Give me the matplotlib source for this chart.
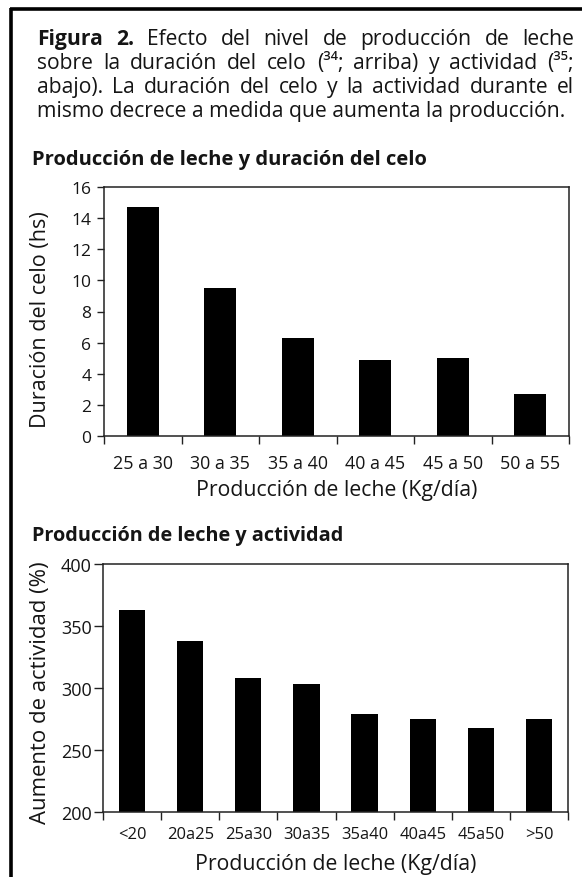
import matplotlib
matplotlib.use("Agg")
import matplotlib.pyplot as plt
from matplotlib.lines import Line2D

# ---------------- data ----------------
caption_lines = [
    "Figura 2. Efecto del nivel de producción de leche",
    "sobre la duración del celo (³⁴; arriba) y actividad (³⁵;",
    "abajo). La duración del celo y la actividad durante el",
    "mismo decrece a medida que aumenta la producción.",
]
caption_bold_words = 2  # "Figura 2." in bold

title_top = "Producción de leche y duración del celo"
cats_top = ["25 a 30", "30 a 35", "35 a 40", "40 a 45", "45 a 50", "50 a 55"]
celo_hs = [14.7, 9.5, 6.3, 4.9, 5.0, 2.7]
ylabel_top = "Duración del celo (hs)"
yticks_top = [0, 2, 4, 6, 8, 10, 12, 14, 16]

title_bottom = "Producción de leche y actividad"
cats_bottom = ["<20", "20a25", "25a30", "30a35", "35a40", "40a45", "45a50", ">50"]
actividad = [363, 338, 308, 303, 279, 275, 268, 275]
ylabel_bottom = "Aumento de actividad (%)"
yticks_bottom = [200, 250, 300, 350, 400]

xlabel = "Producción de leche (Kg/día)"

# ---------------- figure ----------------
W, H = 582, 878
fig = plt.figure(figsize=(W / 100, H / 100), dpi=100)
fig.patch.set_facecolor("white")
renderer = fig.canvas.get_renderer()

FAM = ["Open Sans", "DejaVu Sans"]
NARROW = ["Liberation Sans Narrow", "Open Sans", "DejaVu Sans"]
TXT = "#151515"


def width_px(s, size, family=FAM, **kw):
    t = fig.text(0, 0, s, fontsize=size, family=family, **kw)
    w = t.get_window_extent(renderer).width
    t.remove()
    return w


def fit(s, px, family=FAM, **kw):
    return 10 * px / width_px(s, 10, family=family, **kw)


def fx(x):
    return x / W


def fy(y):
    return 1 - y / H


# border
fig.add_artist(Line2D([fx(9.5), 1.0], [fy(10), fy(10)], transform=fig.transFigure,
                      color="black", lw=2.6, solid_capstyle="butt"))
fig.add_artist(Line2D([fx(11), fx(11)], [0.0, fy(9)], transform=fig.transFigure,
                      color="black", lw=2.6, solid_capstyle="butt"))

# caption (justified)
cap_size = fit(caption_lines[3], 530)
cap_left, cap_right = 37, 574
cap_y = [37, 61, 85, 109]
for i, line in enumerate(caption_lines):
    words = line.split(" ")
    weights = ["normal"] * len(words)
    if i == 0:
        for k in range(caption_bold_words):
            weights[k] = "bold"
    if i == len(caption_lines) - 1:
        fig.text(fx(cap_left), fy(cap_y[i]), line, fontsize=cap_size, family=FAM,
                 color=TXT, ha="left", va="center_baseline")
        continue
    ws = [width_px(w, cap_size, weight=wt) for w, wt in zip(words, weights)]
    gap = (cap_right - cap_left - sum(ws)) / (len(words) - 1)
    x = cap_left
    for w, wt, wd in zip(words, weights, ws):
        fig.text(fx(x), fy(cap_y[i]), w, fontsize=cap_size, family=FAM, weight=wt,
                 color=TXT, ha="left", va="center_baseline")
        x += wd + gap

# subtitles
fig.text(fx(32), fy(157), title_top, fontsize=fit(title_top, 395, weight="bold"),
         family=FAM, weight="bold", color=TXT, ha="left", va="center_baseline")
fig.text(fx(32), fy(534), title_bottom, fontsize=fit(title_bottom, 313, weight="bold"),
         family=FAM, weight="bold", color=TXT, ha="left", va="center_baseline")

xlab_size = fit(xlabel, 280)


def style_axes(ax, n, ytick_len, ytick_pad, xlab_pad, ylab_x, ylab_y, ylab, ylab_size,
               xt_size, yt_size, xt_family):
    ax.set_xlim(-0.5, n - 0.5)
    ax.set_xticks(range(n))
    ax.set_xticks([i - 0.5 for i in range(n + 1)], minor=True)
    ax.tick_params(axis="x", which="major", length=0, pad=xlab_pad,
                   labelsize=xt_size, labelcolor=TXT)
    ax.tick_params(axis="x", which="minor", length=5.5, width=1.0, direction="out",
                   color="#222222")
    ax.tick_params(axis="y", which="major", length=ytick_len, width=1.0, direction="out",
                   pad=ytick_pad, labelsize=yt_size, labelcolor=TXT, color="#222222")
    for lbl in ax.get_xticklabels():
        lbl.set_family(xt_family)
        lbl.set_va("center_baseline")
    for lbl in ax.get_yticklabels():
        lbl.set_family(FAM)
        lbl.set_fontsize(yt_size)
    for sp in ax.spines.values():
        sp.set_linewidth(1.1)
        sp.set_color("#222222")
    ax.set_ylabel(ylab, fontsize=ylab_size, family=FAM, color=TXT)
    ax.yaxis.set_label_coords(ylab_x, ylab_y)
    ax.yaxis.label.set_va("center")


# top chart
ax1 = fig.add_axes([fx(104), fy(437), 465 / W, 249 / H])
ax1.bar(range(len(cats_top)), celo_hs, width=0.41, color="black")
ax1.set_ylim(0, 16)
ax1.set_yticks(yticks_top)
ax1.set_xticklabels(cats_top)
style_axes(ax1, len(cats_top), ytick_len=5, ytick_pad=4, xlab_pad=18,
           ylab_x=(41 - 104) / 465, ylab_y=(437 - 320) / 249,
           ylab=ylabel_top, ylab_size=fit(ylabel_top, 215),
           xt_size=fit(cats_top[0], 60), yt_size=12.5, xt_family=FAM)
ax1.set_xlabel(xlabel, fontsize=xlab_size, family=FAM, color=TXT)
ax1.xaxis.set_label_coords(0.5, (437 - 488) / 249)
ax1.xaxis.label.set_va("center_baseline")

# bottom chart
ax2 = fig.add_axes([fx(103), fy(813), 465 / W, 248 / H])
ax2.bar(range(len(cats_bottom)), actividad, width=0.45, color="black")
ax2.set_ylim(200, 400)
ax2.set_yticks(yticks_bottom)
ax2.set_xticklabels(cats_bottom)
style_axes(ax2, len(cats_bottom), ytick_len=6.5, ytick_pad=1.5, xlab_pad=14.4,
           ylab_x=(41 - 103) / 465, ylab_y=(813 - 693) / 248,
           ylab=ylabel_bottom, ylab_size=fit(ylabel_bottom, 263),
           xt_size=fit(cats_bottom[1], 47, family=NARROW), yt_size=13,
           xt_family=NARROW)
ax2.set_xlabel(xlabel, fontsize=xlab_size, family=FAM, color=TXT)
ax2.xaxis.set_label_coords(0.5, (813 - 862) / 248)
ax2.xaxis.label.set_va("center_baseline")

fig.savefig("out.png", dpi=100, facecolor="white")
